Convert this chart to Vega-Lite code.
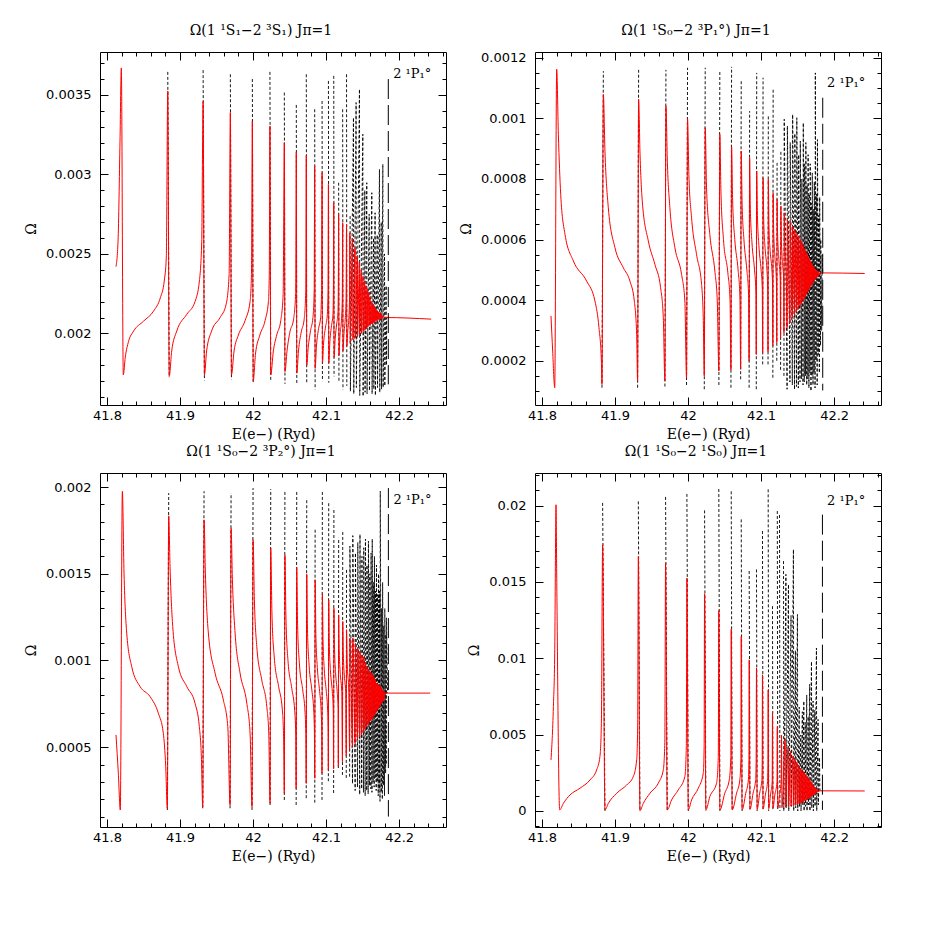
{
"$schema": "https://vega.github.io/schema/vega-lite/v6.json",
"background": "white",
"padding": {"left": 24, "top": 23, "right": 5, "bottom": 5},
"config": {
  "view": {"stroke": "black", "strokeWidth": 1},
  "axis": {"domain": false, "grid": false, "tickColor": "black", "tickWidth": 1, "labelFont": "DejaVu Sans", "labelFontSize": 13, "labelColor": "black", "titleFont": "DejaVu Serif", "titleFontSize": 14, "titleFontWeight": "normal", "titleColor": "black"},
  "title": {"font": "DejaVu Serif", "fontSize": 14, "fontWeight": "normal", "color": "black", "anchor": "middle", "offset": 14, "dx": -12}
},
"datasets": {
"tlr": [
{"x":41.8123,"y":0.00242},{"x":41.8151,"y":0.00258},{"x":41.8178,"y":0.00321},{"x":41.8196,"y":0.00367},{"x":41.8223,"y":0.00174},{"x":41.825,"y":0.00185},{"x":41.8295,"y":0.00195},{"x":41.8364,"y":0.002015},{"x":41.85,"y":0.002077},{"x":41.8637,"y":0.00214},{"x":41.873,"y":0.002224},{"x":41.8784,"y":0.00233},{"x":41.8812,"y":0.00248},{"x":41.8832,"y":0.003525},{"x":41.8852,"y":0.00173},
{"x":41.8886,"y":0.00189},{"x":41.8955,"y":0.002015},{"x":41.9092,"y":0.00212},{"x":41.9205,"y":0.0022},{"x":41.9265,"y":0.00233},{"x":41.9297,"y":0.00258},{"x":41.9316,"y":0.00346},{"x":41.9334,"y":0.00174},
{"x":41.9364,"y":0.00189},{"x":41.9432,"y":0.002015},{"x":41.9548,"y":0.0021},{"x":41.963,"y":0.00218},{"x":41.9672,"y":0.00237},{"x":41.9689,"y":0.00339},{"x":41.9704,"y":0.00174},
{"x":41.974,"y":0.00189},{"x":41.9799,"y":0.00199},{"x":41.989,"y":0.00208},{"x":41.9959,"y":0.0022},{"x":41.9978,"y":0.00237},{"x":41.999,"y":0.003336},{"x":42.0002,"y":0.0017},
{"x":42.0033,"y":0.00187},{"x":42.0093,"y":0.00199},{"x":42.0164,"y":0.00208},{"x":42.021,"y":0.0022},{"x":42.0222,"y":0.00237},{"x":42.0231,"y":0.003305},{"x":42.0242,"y":0.00174},
{"x":42.0278,"y":0.00189},{"x":42.0324,"y":0.00199},{"x":42.0379,"y":0.00208},{"x":42.0412,"y":0.002245},{"x":42.0428,"y":0.0032},{"x":42.0437,"y":0.00176},
{"x":42.0465,"y":0.00189},{"x":42.0505,"y":0.00201},{"x":42.0555,"y":0.00209},{"x":42.0583,"y":0.00225},{"x":42.0592,"y":0.00314},{"x":42.0599,"y":0.00175},
{"x":42.0622,"y":0.00189},{"x":42.066,"y":0.00201},{"x":42.07,"y":0.00209},{"x":42.0721,"y":0.00226},{"x":42.0729,"y":0.00312},{"x":42.0735,"y":0.0018},
{"x":42.0755,"y":0.00191},{"x":42.0788,"y":0.00202},{"x":42.082,"y":0.0021},{"x":42.0837,"y":0.00227},{"x":42.0844,"y":0.003053},{"x":42.085,"y":0.00178},
{"x":42.0868,"y":0.00192},{"x":42.0897,"y":0.00203},{"x":42.0925,"y":0.0021},{"x":42.0938,"y":0.00227},{"x":42.0945,"y":0.003011},{"x":42.095,"y":0.001815},
{"x":42.0966,"y":0.00194},{"x":42.0992,"y":0.00204},{"x":42.1016,"y":0.00211},{"x":42.1026,"y":0.00226},{"x":42.1032,"y":0.002938},{"x":42.1037,"y":0.001815},
{"x":42.1052,"y":0.00195},{"x":42.1075,"y":0.00205},{"x":42.1094,"y":0.00212},{"x":42.11,"y":0.00226},{"x":42.1105,"y":0.002822},{"x":42.1109,"y":0.00185},
{"x":42.1125,"y":0.00197},{"x":42.1145,"y":0.00206},{"x":42.1162,"y":0.00213},{"x":42.1167,"y":0.00226},{"x":42.1172,"y":0.002749},{"x":42.1176,"y":0.00186},
{"x":42.119,"y":0.00199},{"x":42.121,"y":0.00208},{"x":42.1222,"y":0.00222},{"x":42.1227,"y":0.002696},{"x":42.1231,"y":0.00189},
{"x":42.1245,"y":0.002},{"x":42.1262,"y":0.00209},{"x":42.1274,"y":0.00222},{"x":42.128,"y":0.002686},{"x":42.1284,"y":0.00192},
{"x":42.1296,"y":0.00201},{"x":42.1312,"y":0.0021},{"x":42.1321,"y":0.00222},{"x":42.1325,"y":0.002633},{"x":42.133,"y":0.00194},
{"x":42.1362,"y":0.0026},{"x":42.1366,"y":0.00196},{"x":42.1397,"y":0.00254},{"x":42.14,"y":0.00197},{"x":42.1428,"y":0.00249},{"x":42.1431,"y":0.00198},{"x":42.1456,"y":0.00245},{"x":42.1459,"y":0.00199},{"x":42.1482,"y":0.0024},{"x":42.1485,"y":0.002},{"x":42.1506,"y":0.00236},{"x":42.1509,"y":0.00201},{"x":42.1528,"y":0.00233},{"x":42.1531,"y":0.00202},{"x":42.1548,"y":0.0023},{"x":42.1551,"y":0.00203},{"x":42.1567,"y":0.00228},{"x":42.157,"y":0.00204},{"x":42.1585,"y":0.00226},{"x":42.1588,"y":0.00205},{"x":42.1602,"y":0.00223},{"x":42.1605,"y":0.00205},{"x":42.1618,"y":0.0022},{"x":42.1621,"y":0.00206},{"x":42.1633,"y":0.00219},{"x":42.1636,"y":0.00206},{"x":42.1648,"y":0.00218},{"x":42.1651,"y":0.00207},{"x":42.1662,"y":0.00217},{"x":42.1665,"y":0.00207},{"x":42.1676,"y":0.00216},{"x":42.1679,"y":0.00208},{"x":42.169,"y":0.00215},{"x":42.1693,"y":0.00208},{"x":42.1704,"y":0.00214},{"x":42.1707,"y":0.00208},{"x":42.1718,"y":0.002135},{"x":42.1721,"y":0.00209},{"x":42.1732,"y":0.00213},{"x":42.1735,"y":0.00209},{"x":42.1746,"y":0.00213},{"x":42.1749,"y":0.00209},{"x":42.176,"y":0.00212},{"x":42.1763,"y":0.00209},{"x":42.1775,"y":0.00211},{"x":42.1778,"y":0.0021},{"x":42.179,"y":0.00211},{"x":42.1793,"y":0.0021},{"x":42.1805,"y":0.0021},{"x":42.2438,"y":0.00209}
],
"tlk": [
{"g":11,"x":41.8832,"y":0.003645},{"g":11,"x":41.8852,"y":0.001725},
{"g":12,"x":41.9316,"y":0.003656},{"g":12,"x":41.9334,"y":0.001704},
{"g":13,"x":41.9689,"y":0.00363},{"g":13,"x":41.9704,"y":0.00171},
{"g":14,"x":41.999,"y":0.0036},{"g":14,"x":42.0002,"y":0.001689},
{"g":15,"x":42.0231,"y":0.003645},{"g":15,"x":42.0242,"y":0.0017},
{"g":16,"x":42.0428,"y":0.003515},{"g":16,"x":42.0437,"y":0.001683},
{"g":17,"x":42.0592,"y":0.003437},{"g":17,"x":42.0599,"y":0.00168},
{"g":18,"x":42.0729,"y":0.00363},{"g":18,"x":42.0735,"y":0.001689},
{"g":19,"x":42.0844,"y":0.00341},{"g":19,"x":42.085,"y":0.001647},
{"g":20,"x":42.0945,"y":0.003462},{"g":20,"x":42.095,"y":0.0017},
{"g":21,"x":42.1032,"y":0.003588},{"g":21,"x":42.1037,"y":0.00169},
{"g":22,"x":42.1105,"y":0.00362},{"g":22,"x":42.1109,"y":0.00173},
{"g":23,"x":42.1172,"y":0.002948},{"g":23,"x":42.1176,"y":0.0017},
{"g":24,"x":42.1227,"y":0.00341},{"g":24,"x":42.1231,"y":0.001647},
{"g":25,"x":42.128,"y":0.00363},{"g":25,"x":42.1284,"y":0.00167},
{"g":99,"x":42.1329,"y":0.002738},{"g":99,"x":42.1333,"y":0.001637},{"g":99,"x":42.1375,"y":0.003357},{"g":99,"x":42.1379,"y":0.00162},{"g":99,"x":42.1411,"y":0.003452},{"g":99,"x":42.1415,"y":0.00166},{"g":99,"x":42.1457,"y":0.003536},{"g":99,"x":42.1461,"y":0.00161},{"g":99,"x":42.1503,"y":0.003253},{"g":99,"x":42.1507,"y":0.001605},{"g":99,"x":42.153,"y":0.0029},{"g":99,"x":42.1534,"y":0.00163},{"g":99,"x":42.1557,"y":0.002948},{"g":99,"x":42.1561,"y":0.00162},{"g":99,"x":42.159,"y":0.00275},{"g":99,"x":42.1594,"y":0.00164},{"g":99,"x":42.1626,"y":0.002885},{"g":99,"x":42.163,"y":0.00162},{"g":99,"x":42.165,"y":0.0026},{"g":99,"x":42.1654,"y":0.00165},{"g":99,"x":42.1671,"y":0.002759},{"g":99,"x":42.1675,"y":0.00161},{"g":99,"x":42.17,"y":0.00262},{"g":99,"x":42.1704,"y":0.00166},{"g":99,"x":42.1731,"y":0.003032},{"g":99,"x":42.1735,"y":0.00163},{"g":99,"x":42.1755,"y":0.0027},{"g":99,"x":42.1759,"y":0.00165},{"g":99,"x":42.1777,"y":0.003064},{"g":99,"x":42.1781,"y":0.00166},{"g":99,"x":42.18,"y":0.0025},{"g":99,"x":42.1804,"y":0.00167},{"g":99,"x":42.1822,"y":0.0023},{"g":99,"x":42.1826,"y":0.0018},{"g":99,"x":42.183,"y":0.0021}
],
"tlt": [{"x":42.1852,"y":0.0036,"y2":0.00168,"lx":42.1918,"ly":0.00363,"label":"2 ¹P₁°"}],
"trr": [
{"x":41.8123,"y":0.000348},{"x":41.8146,"y":0.000232},{"x":41.8174,"y":0.000111},{"x":41.8201,"y":0.001162},{"x":41.8224,"y":0.000947},{"x":41.8256,"y":0.000749},{"x":41.8315,"y":0.000617},{"x":41.843,"y":0.000529},{"x":41.8611,"y":0.000463},{"x":41.8725,"y":0.000397},{"x":41.878,"y":0.000309},{"x":41.8813,"y":0.000199},{"x":41.8821,"y":0.000122},{"x":41.884,"y":0.001079},
{"x":41.8862,"y":0.000892},{"x":41.8908,"y":0.000705},{"x":41.8999,"y":0.000573},{"x":41.9114,"y":0.000507},{"x":41.9204,"y":0.000463},{"x":41.9264,"y":0.000397},{"x":41.9296,"y":0.000287},{"x":41.9309,"y":0.000133},{"x":41.9323,"y":0.001063},
{"x":41.9341,"y":0.000892},{"x":41.9373,"y":0.000727},{"x":41.9456,"y":0.000595},{"x":41.9546,"y":0.000518},{"x":41.9624,"y":0.000441},{"x":41.9661,"y":0.000342},{"x":41.9683,"y":0.000133},{"x":41.9697,"y":0.001041},
{"x":41.9716,"y":0.000859},{"x":41.9751,"y":0.000705},{"x":41.982,"y":0.000573},{"x":41.9911,"y":0.000485},{"x":41.9956,"y":0.000397},{"x":41.9979,"y":0.000144},{"x":41.9993,"y":0.000998},
{"x":42.0011,"y":0.000815},{"x":42.0048,"y":0.000672},{"x":42.0116,"y":0.000551},{"x":42.0185,"y":0.000452},{"x":42.0208,"y":0.000342},{"x":42.0222,"y":0.00015},{"x":42.0235,"y":0.000969},
{"x":42.0253,"y":0.000771},{"x":42.0298,"y":0.000617},{"x":42.0367,"y":0.000496},{"x":42.04,"y":0.000397},{"x":42.0422,"y":0.000166},{"x":42.0435,"y":0.000947},
{"x":42.045,"y":0.00076},{"x":42.0485,"y":0.0006},{"x":42.0545,"y":0.00049},{"x":42.0575,"y":0.0004},{"x":42.0587,"y":0.00017},{"x":42.0596,"y":0.000906},
{"x":42.061,"y":0.00073},{"x":42.064,"y":0.0006},{"x":42.0685,"y":0.0005},{"x":42.071,"y":0.00041},{"x":42.072,"y":0.000172},{"x":42.0728,"y":0.000892},
{"x":42.074,"y":0.00072},{"x":42.0765,"y":0.0006},{"x":42.0805,"y":0.0005},{"x":42.0828,"y":0.00042},{"x":42.0836,"y":0.000199},{"x":42.0843,"y":0.00087},
{"x":42.0853,"y":0.0007},{"x":42.0875,"y":0.00059},{"x":42.091,"y":0.0005},{"x":42.0928,"y":0.00043},{"x":42.0934,"y":0.000221},{"x":42.094,"y":0.000826},
{"x":42.095,"y":0.00068},{"x":42.097,"y":0.00058},{"x":42.1,"y":0.0005},{"x":42.1016,"y":0.00044},{"x":42.1022,"y":0.000227},{"x":42.1027,"y":0.000804},
{"x":42.1036,"y":0.00066},{"x":42.1055,"y":0.00057},{"x":42.108,"y":0.0005},{"x":42.109,"y":0.00044},{"x":42.1095,"y":0.00023},{"x":42.1099,"y":0.000799},
{"x":42.1107,"y":0.00065},{"x":42.1125,"y":0.00056},{"x":42.1148,"y":0.0005},{"x":42.1157,"y":0.00045},{"x":42.1161,"y":0.000249},{"x":42.1165,"y":0.000754},
{"x":42.1172,"y":0.00063},{"x":42.119,"y":0.00054},{"x":42.121,"y":0.00046},{"x":42.1215,"y":0.00026},{"x":42.1219,"y":0.000733},
{"x":42.1226,"y":0.00062},{"x":42.1245,"y":0.00053},{"x":42.1262,"y":0.00047},{"x":42.1267,"y":0.000276},{"x":42.1271,"y":0.000711},
{"x":42.1278,"y":0.0006},{"x":42.1295,"y":0.00052},{"x":42.1309,"y":0.00047},{"x":42.1313,"y":0.000292},{"x":42.1317,"y":0.000688},
{"x":42.1324,"y":0.00059},{"x":42.1345,"y":0.00048},{"x":42.1356,"y":0.000309},{"x":42.136,"y":0.000667},
{"x":42.1395,"y":0.000325},{"x":42.1399,"y":0.00066},{"x":42.1428,"y":0.00034},{"x":42.1432,"y":0.000645},{"x":42.1458,"y":0.000352},{"x":42.1462,"y":0.000633},{"x":42.1485,"y":0.000362},{"x":42.1489,"y":0.00062},{"x":42.151,"y":0.000372},{"x":42.1514,"y":0.000612},{"x":42.1533,"y":0.00038},{"x":42.1537,"y":0.0006},{"x":42.1554,"y":0.000388},{"x":42.1558,"y":0.000592},{"x":42.1574,"y":0.000396},{"x":42.1578,"y":0.00058},{"x":42.1592,"y":0.000404},{"x":42.1596,"y":0.00057},{"x":42.1609,"y":0.000412},{"x":42.1613,"y":0.000562},{"x":42.1625,"y":0.00042},{"x":42.1629,"y":0.000553},{"x":42.164,"y":0.000427},{"x":42.1644,"y":0.000545},{"x":42.1655,"y":0.000434},{"x":42.1659,"y":0.000538},{"x":42.1669,"y":0.00044},{"x":42.1673,"y":0.00053},{"x":42.1683,"y":0.000446},{"x":42.1687,"y":0.000524},{"x":42.1697,"y":0.000452},{"x":42.1701,"y":0.000518},{"x":42.1711,"y":0.000458},{"x":42.1715,"y":0.000512},{"x":42.1725,"y":0.000463},{"x":42.1729,"y":0.000507},{"x":42.1739,"y":0.000468},{"x":42.1743,"y":0.000503},{"x":42.1753,"y":0.000472},{"x":42.1757,"y":0.000499},{"x":42.1768,"y":0.000476},{"x":42.1772,"y":0.000496},{"x":42.1783,"y":0.00048},{"x":42.1787,"y":0.000494},{"x":42.1798,"y":0.000484},{"x":42.1805,"y":0.00049},{"x":42.2419,"y":0.000488}
],
"trk": [
{"g":11,"x":41.8821,"y":0.000111},{"g":11,"x":41.884,"y":0.001156},
{"g":12,"x":41.9309,"y":0.000111},{"g":12,"x":41.9323,"y":0.00116},
{"g":13,"x":41.9683,"y":0.000115},{"g":13,"x":41.9697,"y":0.00116},
{"g":14,"x":41.9979,"y":0.00012},{"g":14,"x":41.9993,"y":0.001167},
{"g":15,"x":42.0222,"y":0.000106},{"g":15,"x":42.0235,"y":0.001167},
{"g":16,"x":42.0422,"y":0.00012},{"g":16,"x":42.0435,"y":0.001156},
{"g":17,"x":42.0587,"y":0.000111},{"g":17,"x":42.0596,"y":0.00117},
{"g":18,"x":42.072,"y":0.000139},{"g":18,"x":42.0728,"y":0.001129},
{"g":19,"x":42.0836,"y":0.000111},{"g":19,"x":42.0843,"y":0.001024},
{"g":20,"x":42.0934,"y":0.000106},{"g":20,"x":42.094,"y":0.00115},
{"g":21,"x":42.1022,"y":0.000188},{"g":21,"x":42.1027,"y":0.001134},
{"g":22,"x":42.1095,"y":0.000188},{"g":22,"x":42.1099,"y":0.001008},
{"g":23,"x":42.1161,"y":0.000144},{"g":23,"x":42.1165,"y":0.001096},
{"g":24,"x":42.1215,"y":0.0002},{"g":24,"x":42.1219,"y":0.000853},
{"g":25,"x":42.1267,"y":0.00017},{"g":25,"x":42.1271,"y":0.000892},
{"g":99,"x":42.1313,"y":0.00015},{"g":99,"x":42.1317,"y":0.000997},{"g":99,"x":42.1356,"y":0.000106},{"g":99,"x":42.136,"y":0.000975},{"g":99,"x":42.1395,"y":0.00013},{"g":99,"x":42.1399,"y":0.00092},{"g":99,"x":42.1428,"y":0.00012},{"g":99,"x":42.1432,"y":0.001013},{"g":99,"x":42.1458,"y":0.000106},{"g":99,"x":42.1462,"y":0.00095},{"g":99,"x":42.1485,"y":0.000115},{"g":99,"x":42.1489,"y":0.001002},{"g":99,"x":42.151,"y":0.00011},{"g":99,"x":42.1514,"y":0.00088},{"g":99,"x":42.1533,"y":0.00013},{"g":99,"x":42.1537,"y":0.000925},{"g":99,"x":42.1554,"y":0.00014},{"g":99,"x":42.1558,"y":0.0008},{"g":99,"x":42.1574,"y":0.00012},{"g":99,"x":42.1578,"y":0.000985},{"g":99,"x":42.1592,"y":0.00013},{"g":99,"x":42.1596,"y":0.00085},{"g":99,"x":42.1609,"y":0.00015},{"g":99,"x":42.1613,"y":0.00092},{"g":99,"x":42.1625,"y":0.00012},{"g":99,"x":42.1629,"y":0.00078},{"g":99,"x":42.164,"y":0.00014},{"g":99,"x":42.1644,"y":0.00088},{"g":99,"x":42.1655,"y":0.00011},{"g":99,"x":42.1659,"y":0.00075},{"g":99,"x":42.1669,"y":0.00016},{"g":99,"x":42.1673,"y":0.00085},{"g":99,"x":42.1683,"y":0.0001},{"g":99,"x":42.1687,"y":0.00072},{"g":99,"x":42.1697,"y":0.00015},{"g":99,"x":42.1701,"y":0.00082},{"g":99,"x":42.1711,"y":0.00012},{"g":99,"x":42.1715,"y":0.0007},{"g":99,"x":42.1725,"y":0.00016},{"g":99,"x":42.1729,"y":0.00079},{"g":99,"x":42.1739,"y":0.00011},{"g":99,"x":42.1743,"y":0.00115},{"g":99,"x":42.1753,"y":0.0002},{"g":99,"x":42.1757,"y":0.00075},{"g":99,"x":42.1768,"y":0.00012},{"g":99,"x":42.1772,"y":0.00093},{"g":99,"x":42.1783,"y":0.00022},{"g":99,"x":42.1787,"y":0.00068},{"g":99,"x":42.1798,"y":0.00016},{"g":99,"x":42.1802,"y":0.00074},{"g":99,"x":42.1813,"y":0.00025},{"g":99,"x":42.1817,"y":0.0006},{"g":99,"x":42.183,"y":0.0003},{"g":99,"x":42.1836,"y":0.00055},{"g":99,"x":42.1844,"y":0.00049}
],
"trt": [{"x":42.1844,"y":0.001068,"y2":0.000102,"lx":42.1904,"ly":0.001117,"label":"2 ¹P₁°"}],
"blr": [
{"x":41.8123,"y":0.000571},{"x":41.8155,"y":0.00035},{"x":41.8182,"y":0.000138},{"x":41.821,"y":0.001975},{"x":41.8233,"y":0.001504},{"x":41.827,"y":0.001158},{"x":41.8338,"y":0.000965},{"x":41.8452,"y":0.00085},{"x":41.8589,"y":0.000792},{"x":41.8703,"y":0.000696},{"x":41.8771,"y":0.000581},{"x":41.8804,"y":0.000388},{"x":41.8826,"y":0.000148},{"x":41.8845,"y":0.001834},
{"x":41.8863,"y":0.001542},{"x":41.89,"y":0.001196},{"x":41.8977,"y":0.000965},{"x":41.9092,"y":0.00085},{"x":41.9205,"y":0.000754},{"x":41.9264,"y":0.000619},{"x":41.9292,"y":0.000446},{"x":41.9311,"y":0.000157},{"x":41.9329,"y":0.001811},
{"x":41.9347,"y":0.001504},{"x":41.9388,"y":0.001158},{"x":41.948,"y":0.000927},{"x":41.9593,"y":0.000773},{"x":41.9654,"y":0.000619},{"x":41.9685,"y":0.000167},{"x":41.9699,"y":0.001763},
{"x":41.9717,"y":0.001465},{"x":41.9754,"y":0.001158},{"x":41.9822,"y":0.000927},{"x":41.9914,"y":0.000754},{"x":41.9959,"y":0.000581},{"x":41.9986,"y":0.000157},{"x":42.0,"y":0.001696},
{"x":42.0018,"y":0.00135},{"x":42.0051,"y":0.00108},{"x":42.0119,"y":0.000888},{"x":42.0188,"y":0.000734},{"x":42.0215,"y":0.000581},{"x":42.0233,"y":0.000177},{"x":42.0242,"y":0.001648},
{"x":42.0258,"y":0.00128},{"x":42.029,"y":0.00102},{"x":42.035,"y":0.00085},{"x":42.04,"y":0.00072},{"x":42.0418,"y":0.00056},{"x":42.0428,"y":0.000235},{"x":42.0436,"y":0.001609},
{"x":42.045,"y":0.00125},{"x":42.0478,"y":0.001},{"x":42.053,"y":0.00084},{"x":42.057,"y":0.00071},{"x":42.0584,"y":0.00058},{"x":42.059,"y":0.000263},{"x":42.0598,"y":0.001538},
{"x":42.061,"y":0.0012},{"x":42.0635,"y":0.00098},{"x":42.068,"y":0.00083},{"x":42.0712,"y":0.0007},{"x":42.0722,"y":0.00058},{"x":42.0728,"y":0.000292},{"x":42.0735,"y":0.001498},
{"x":42.0745,"y":0.00118},{"x":42.0768,"y":0.00097},{"x":42.0805,"y":0.00083},{"x":42.0832,"y":0.0007},{"x":42.084,"y":0.00059},{"x":42.0845,"y":0.000321},{"x":42.085,"y":0.001465},
{"x":42.086,"y":0.00115},{"x":42.088,"y":0.00096},{"x":42.0912,"y":0.00082},{"x":42.0932,"y":0.00071},{"x":42.094,"y":0.0006},{"x":42.0944,"y":0.00035},{"x":42.0949,"y":0.001384},
{"x":42.0958,"y":0.00112},{"x":42.0975,"y":0.00095},{"x":42.1003,"y":0.00082},{"x":42.102,"y":0.00072},{"x":42.1027,"y":0.00061},{"x":42.1031,"y":0.000369},{"x":42.1036,"y":0.00135},
{"x":42.1044,"y":0.0011},{"x":42.106,"y":0.00094},{"x":42.1085,"y":0.00082},{"x":42.1098,"y":0.00072},{"x":42.1103,"y":0.000375},{"x":42.1107,"y":0.001302},
{"x":42.1115,"y":0.00108},{"x":42.113,"y":0.00093},{"x":42.1152,"y":0.00082},{"x":42.1164,"y":0.00073},{"x":42.1168,"y":0.00039},{"x":42.1172,"y":0.001263},
{"x":42.118,"y":0.00106},{"x":42.1195,"y":0.00092},{"x":42.1215,"y":0.00082},{"x":42.1224,"y":0.000417},{"x":42.1228,"y":0.001225},
{"x":42.1236,"y":0.00104},{"x":42.125,"y":0.00091},{"x":42.1268,"y":0.00082},{"x":42.1276,"y":0.00045},{"x":42.128,"y":0.001177},
{"x":42.129,"y":0.00098},{"x":42.131,"y":0.00083},{"x":42.1322,"y":0.000484},{"x":42.1326,"y":0.001129},
{"x":42.1362,"y":0.000505},{"x":42.1366,"y":0.00113},{"x":42.1398,"y":0.00052},{"x":42.1402,"y":0.0011},{"x":42.143,"y":0.000545},{"x":42.1434,"y":0.00107},{"x":42.146,"y":0.00056},{"x":42.1464,"y":0.00105},{"x":42.1487,"y":0.000572},{"x":42.1491,"y":0.00103},{"x":42.1512,"y":0.000585},{"x":42.1516,"y":0.00102},{"x":42.1535,"y":0.0006},{"x":42.1539,"y":0.00099},{"x":42.1556,"y":0.00062},{"x":42.156,"y":0.000965},{"x":42.1576,"y":0.00063},{"x":42.158,"y":0.00095},{"x":42.1595,"y":0.000645},{"x":42.1599,"y":0.00094},{"x":42.1612,"y":0.00065},{"x":42.1616,"y":0.00093},{"x":42.1628,"y":0.00066},{"x":42.1632,"y":0.00092},{"x":42.1643,"y":0.00067},{"x":42.1647,"y":0.00091},{"x":42.1658,"y":0.000685},{"x":42.1662,"y":0.0009},{"x":42.1672,"y":0.00069},{"x":42.1676,"y":0.00089},{"x":42.1686,"y":0.0007},{"x":42.169,"y":0.00087},{"x":42.17,"y":0.00071},{"x":42.1704,"y":0.000865},{"x":42.1714,"y":0.00072},{"x":42.1718,"y":0.00086},{"x":42.1728,"y":0.00073},{"x":42.1732,"y":0.000855},{"x":42.1742,"y":0.00074},{"x":42.1746,"y":0.00085},{"x":42.1756,"y":0.00075},{"x":42.176,"y":0.00084},{"x":42.177,"y":0.00076},{"x":42.1774,"y":0.00083},{"x":42.1785,"y":0.00077},{"x":42.1789,"y":0.000825},{"x":42.18,"y":0.00078},{"x":42.1805,"y":0.000812},{"x":42.2425,"y":0.000812}
],
"blk": [
{"g":11,"x":41.8826,"y":0.000138},{"g":11,"x":41.8845,"y":0.001965},
{"g":12,"x":41.9311,"y":0.000148},{"g":12,"x":41.9329,"y":0.001976},
{"g":13,"x":41.9685,"y":0.000148},{"g":13,"x":41.9699,"y":0.001965},
{"g":14,"x":41.9986,"y":0.000138},{"g":14,"x":42.0,"y":0.001994},
{"g":15,"x":42.0233,"y":0.000167},{"g":15,"x":42.0242,"y":0.001988},
{"g":16,"x":42.0428,"y":0.000196},{"g":16,"x":42.0436,"y":0.001976},
{"g":17,"x":42.059,"y":0.000167},{"g":17,"x":42.0598,"y":0.001982},
{"g":18,"x":42.0728,"y":0.000206},{"g":18,"x":42.0735,"y":0.001936},
{"g":19,"x":42.0845,"y":0.00018},{"g":19,"x":42.085,"y":0.00176},
{"g":20,"x":42.0944,"y":0.000196},{"g":20,"x":42.0949,"y":0.001976},
{"g":21,"x":42.1031,"y":0.000304},{"g":21,"x":42.1036,"y":0.001919},
{"g":22,"x":42.1103,"y":0.000236},{"g":22,"x":42.1107,"y":0.00188},
{"g":23,"x":42.1168,"y":0.00038},{"g":23,"x":42.1172,"y":0.001707},
{"g":24,"x":42.1224,"y":0.00034},{"g":24,"x":42.1228,"y":0.00175},
{"g":25,"x":42.1276,"y":0.000323},{"g":25,"x":42.128,"y":0.001534},
{"g":99,"x":42.1322,"y":0.00033},{"g":99,"x":42.1326,"y":0.00166},{"g":99,"x":42.1362,"y":0.00029},{"g":99,"x":42.1366,"y":0.00172},{"g":99,"x":42.1398,"y":0.00025},{"g":99,"x":42.1402,"y":0.00162},{"g":99,"x":42.143,"y":0.00027},{"g":99,"x":42.1434,"y":0.00168},{"g":99,"x":42.146,"y":0.000227},{"g":99,"x":42.1464,"y":0.001727},{"g":99,"x":42.1487,"y":0.00026},{"g":99,"x":42.1491,"y":0.0016},{"g":99,"x":42.1512,"y":0.00024},{"g":99,"x":42.1516,"y":0.00165},{"g":99,"x":42.1535,"y":0.00022},{"g":99,"x":42.1539,"y":0.0017},{"g":99,"x":42.1556,"y":0.00025},{"g":99,"x":42.156,"y":0.00155},{"g":99,"x":42.1576,"y":0.00023},{"g":99,"x":42.158,"y":0.001688},{"g":99,"x":42.1595,"y":0.00028},{"g":99,"x":42.1599,"y":0.0015},{"g":99,"x":42.1612,"y":0.00026},{"g":99,"x":42.1616,"y":0.00162},{"g":99,"x":42.1628,"y":0.00024},{"g":99,"x":42.1632,"y":0.0017},{"g":99,"x":42.1643,"y":0.0003},{"g":99,"x":42.1647,"y":0.00145},{"g":99,"x":42.1658,"y":0.00027},{"g":99,"x":42.1662,"y":0.0016},{"g":99,"x":42.1672,"y":0.00032},{"g":99,"x":42.1676,"y":0.0014},{"g":99,"x":42.1686,"y":0.00025},{"g":99,"x":42.169,"y":0.00155},{"g":99,"x":42.17,"y":0.0003},{"g":99,"x":42.1704,"y":0.00138},{"g":99,"x":42.1714,"y":0.00022},{"g":99,"x":42.1718,"y":0.0015},{"g":99,"x":42.1728,"y":0.00026},{"g":99,"x":42.1732,"y":0.0014},{"g":99,"x":42.1738,"y":0.000188},{"g":99,"x":42.1742,"y":0.001977},{"g":99,"x":42.1756,"y":0.00024},{"g":99,"x":42.176,"y":0.0013},{"g":99,"x":42.177,"y":0.0002},{"g":99,"x":42.1774,"y":0.00145},{"g":99,"x":42.1785,"y":0.00028},{"g":99,"x":42.1789,"y":0.0012},{"g":99,"x":42.18,"y":0.00022},{"g":99,"x":42.1804,"y":0.0013},{"g":99,"x":42.1815,"y":0.00035},{"g":99,"x":42.1819,"y":0.00115},{"g":99,"x":42.1822,"y":0.0004},{"g":99,"x":42.1826,"y":0.001246},{"g":99,"x":42.1842,"y":0.000812}
],
"blt": [{"x":42.1853,"y":0.001994,"y2":0.0001,"lx":42.1922,"ly":0.001923,"label":"2 ¹P₁°"}],
"brr": [
{"x":41.8123,"y":0.003344},{"x":41.8156,"y":0.00684},{"x":41.8174,"y":0.01034},{"x":41.8192,"y":0.02006},{"x":41.8201,"y":0.01559},{"x":41.8242,"y":0.00007},{"x":41.8293,"y":0.0005},{"x":41.8383,"y":0.00105},{"x":41.852,"y":0.00149},{"x":41.8657,"y":0.00203},{"x":41.8748,"y":0.00269},{"x":41.8793,"y":0.00356},{"x":41.8813,"y":0.00575},{"x":41.883,"y":0.01744},{"x":41.8862,"y":0.00007},
{"x":41.8908,"y":0.0005},{"x":41.9022,"y":0.00116},{"x":41.9159,"y":0.0017},{"x":41.925,"y":0.00225},{"x":41.9296,"y":0.00334},{"x":41.931,"y":0.0055},{"x":41.9319,"y":0.01667},{"x":41.9341,"y":0.00002},
{"x":41.9387,"y":0.0005},{"x":41.9478,"y":0.00116},{"x":41.9592,"y":0.00182},{"x":41.9661,"y":0.00269},{"x":41.9682,"y":0.0045},{"x":41.9692,"y":0.01624},{"x":41.9715,"y":0.00007},
{"x":41.9774,"y":0.00072},{"x":41.9866,"y":0.00138},{"x":41.9956,"y":0.00225},{"x":41.9976,"y":0.0042},{"x":41.9984,"y":0.01526},{"x":42.0003,"y":0.00007},
{"x":42.0048,"y":0.00072},{"x":42.014,"y":0.00149},{"x":42.0208,"y":0.00247},{"x":42.022,"y":0.0042},{"x":42.0226,"y":0.01423},{"x":42.0244,"y":0.00007},
{"x":42.0298,"y":0.00094},{"x":42.039,"y":0.00182},{"x":42.0414,"y":0.0035},{"x":42.0421,"y":0.01313},{"x":42.0436,"y":0.00007},
{"x":42.0503,"y":0.00116},{"x":42.0564,"y":0.00203},{"x":42.0585,"y":0.0035},{"x":42.0591,"y":0.01191},{"x":42.0604,"y":0.00007},
{"x":42.0664,"y":0.00116},{"x":42.0709,"y":0.00203},{"x":42.0723,"y":0.0034},{"x":42.0728,"y":0.01143},{"x":42.074,"y":0.00007},
{"x":42.079,"y":0.00116},{"x":42.0826,"y":0.00203},{"x":42.0833,"y":0.0033},{"x":42.0837,"y":0.0099},{"x":42.0848,"y":0.0001},
{"x":42.089,"y":0.00116},{"x":42.0925,"y":0.002},{"x":42.0932,"y":0.0032},{"x":42.0937,"y":0.00936},{"x":42.0946,"y":0.0001},
{"x":42.098,"y":0.00116},{"x":42.101,"y":0.002},{"x":42.1015,"y":0.0031},{"x":42.1019,"y":0.00892},{"x":42.1027,"y":0.00012},
{"x":42.106,"y":0.0011},{"x":42.1088,"y":0.0019},{"x":42.1093,"y":0.003},{"x":42.1097,"y":0.00793},{"x":42.1104,"y":0.00015},
{"x":42.113,"y":0.0011},{"x":42.1152,"y":0.0019},{"x":42.1156,"y":0.0064},{"x":42.1162,"y":0.00018},
{"x":42.119,"y":0.0011},{"x":42.1218,"y":0.0019},{"x":42.1222,"y":0.00553},{"x":42.1228,"y":0.0002},
{"x":42.1255,"y":0.0011},{"x":42.1275,"y":0.0019},{"x":42.128,"y":0.00498},{"x":42.1286,"y":0.00022},
{"x":42.133,"y":0.0047},{"x":42.1334,"y":0.00025},{"x":42.137,"y":0.0042},{"x":42.1374,"y":0.0003},{"x":42.1405,"y":0.0039},{"x":42.1409,"y":0.00032},{"x":42.1437,"y":0.0036},{"x":42.1441,"y":0.00035},{"x":42.1465,"y":0.0034},{"x":42.1469,"y":0.00038},{"x":42.1491,"y":0.0032},{"x":42.1495,"y":0.0004},{"x":42.1515,"y":0.003},{"x":42.1519,"y":0.00045},{"x":42.1537,"y":0.0028},{"x":42.1541,"y":0.0005},{"x":42.1558,"y":0.0027},{"x":42.1562,"y":0.00055},{"x":42.1577,"y":0.0026},{"x":42.1581,"y":0.0006},{"x":42.1595,"y":0.0025},{"x":42.1599,"y":0.00065},{"x":42.1612,"y":0.0024},{"x":42.1616,"y":0.0007},{"x":42.1628,"y":0.0023},{"x":42.1632,"y":0.00075},{"x":42.1643,"y":0.0022},{"x":42.1647,"y":0.0008},{"x":42.1658,"y":0.0021},{"x":42.1662,"y":0.00085},{"x":42.1672,"y":0.002},{"x":42.1676,"y":0.0009},{"x":42.1686,"y":0.0019},{"x":42.169,"y":0.00095},{"x":42.17,"y":0.0018},{"x":42.1704,"y":0.001},{"x":42.1714,"y":0.0017},{"x":42.1718,"y":0.00105},{"x":42.1728,"y":0.0016},{"x":42.1732,"y":0.0011},{"x":42.1742,"y":0.0015},{"x":42.1746,"y":0.00115},{"x":42.1756,"y":0.00145},{"x":42.176,"y":0.0012},{"x":42.177,"y":0.0014},{"x":42.1774,"y":0.00125},{"x":42.1784,"y":0.00135},{"x":42.1788,"y":0.00128},{"x":42.18,"y":0.00132},{"x":42.2419,"y":0.00131}
],
"brk": [
{"g":11,"x":41.883,"y":0.02018},{"g":11,"x":41.8862,"y":0.0},
{"g":12,"x":41.9319,"y":0.02028},{"g":12,"x":41.9341,"y":0.0},
{"g":13,"x":41.9692,"y":0.02057},{"g":13,"x":41.9715,"y":0.0},
{"g":14,"x":41.9984,"y":0.02077},{"g":14,"x":42.0003,"y":0.0},
{"g":15,"x":42.0226,"y":0.01969},{"g":15,"x":42.0244,"y":0.0},
{"g":16,"x":42.0421,"y":0.02109},{"g":16,"x":42.0436,"y":0.0},
{"g":17,"x":42.0591,"y":0.02094},{"g":17,"x":42.0604,"y":0.0},
{"g":18,"x":42.0728,"y":0.0191},{"g":18,"x":42.074,"y":0.0},
{"g":19,"x":42.0837,"y":0.01572},{"g":19,"x":42.0848,"y":0.0},
{"g":20,"x":42.0937,"y":0.01582},{"g":20,"x":42.0946,"y":0.0},
{"g":21,"x":42.1019,"y":0.01834},{"g":21,"x":42.1027,"y":0.0},
{"g":22,"x":42.1097,"y":0.02107},{"g":22,"x":42.1104,"y":0.0},
{"g":23,"x":42.1156,"y":0.01342},{"g":23,"x":42.1162,"y":0.0},
{"g":24,"x":42.1222,"y":0.01965},{"g":24,"x":42.1228,"y":0.0},
{"g":25,"x":42.1252,"y":0.01939},{"g":25,"x":42.1258,"y":0.0},
{"g":99,"x":42.1307,"y":0.01637},{"g":99,"x":42.1311,"y":0.0},{"g":99,"x":42.134,"y":0.0155},{"g":99,"x":42.1344,"y":0.0002},{"g":99,"x":42.1375,"y":0.01484},{"g":99,"x":42.1379,"y":0.0},{"g":99,"x":42.141,"y":0.0128},{"g":99,"x":42.1414,"y":0.0003},{"g":99,"x":42.1443,"y":0.01713},{"g":99,"x":42.1447,"y":0.0},{"g":99,"x":42.147,"y":0.0105},{"g":99,"x":42.1474,"y":0.0002},{"g":99,"x":42.1498,"y":0.01287},{"g":99,"x":42.1502,"y":0.0},{"g":99,"x":42.1522,"y":0.0068},{"g":99,"x":42.1526,"y":0.0003},{"g":99,"x":42.1543,"y":0.00498},{"g":99,"x":42.1547,"y":0.0},{"g":99,"x":42.1565,"y":0.0065},{"g":99,"x":42.1569,"y":0.0004},{"g":99,"x":42.1585,"y":0.0072},{"g":99,"x":42.1589,"y":0.0},{"g":99,"x":42.1605,"y":0.0058},{"g":99,"x":42.1609,"y":0.0003},{"g":99,"x":42.1625,"y":0.0076},{"g":99,"x":42.1629,"y":0.0},{"g":99,"x":42.1645,"y":0.0062},{"g":99,"x":42.1649,"y":0.0004},{"g":99,"x":42.1665,"y":0.0083},{"g":99,"x":42.1669,"y":0.0},{"g":99,"x":42.169,"y":0.00979},{"g":99,"x":42.1694,"y":0.0002},{"g":99,"x":42.1712,"y":0.0072},{"g":99,"x":42.1716,"y":0.0},{"g":99,"x":42.1735,"y":0.0066},{"g":99,"x":42.1739,"y":0.0003},{"g":99,"x":42.1758,"y":0.01067},{"g":99,"x":42.1762,"y":0.0},{"g":99,"x":42.178,"y":0.006},{"g":99,"x":42.1784,"y":0.0004},{"g":99,"x":42.18,"y":0.0035},{"g":99,"x":42.1805,"y":0.00131}
],
"brt": [{"x":42.184,"y":0.01941,"y2":0.00007,"lx":42.1904,"ly":0.02028,"label":"2 ¹P₁°"}]
},
"columns": 2,
"spacing": {"row": 2, "column": 12},
"concat": [
{
 "width": 346, "height": 353,
 "title": {"text": "Ω(1 ¹S₁−2 ³S₁) Jπ=1"},
 "resolve": {"axis": {"x": "independent", "y": "independent"}},
 "layer": [
  {"data": {"name": "tlk"}, "mark": {"type": "line", "color": "black", "strokeWidth": 0.9, "strokeDash": [3, 2], "clip": true},
   "encoding": {
    "x": {"field": "x", "type": "quantitative", "scale": {"domain": [41.7904, 42.2642], "nice": false, "zero": false}, "axis": {"orient": "bottom", "values": [41.8, 41.9, 42, 42.1, 42.2], "format": "~g", "tickSize": -8, "labelPadding": 12, "title": "E(e−) (Ryd)", "titlePadding": 5}},
    "y": {"field": "y", "type": "quantitative", "scale": {"domain": [0.00155, 0.00377], "nice": false, "zero": false}, "axis": {"orient": "left", "values": [0.002, 0.0025, 0.003, 0.0035], "format": "~g", "tickSize": -8, "labelPadding": 17, "title": "Ω", "titlePadding": 7}},
    "detail": {"field": "g", "type": "nominal"}}},
  {"data": {"name": "tlr"}, "mark": {"type": "line", "color": "#ff0000", "strokeWidth": 1, "interpolate": "monotone", "clip": true},
   "encoding": {
    "x": {"field": "x", "type": "quantitative", "scale": {"domain": [41.7904, 42.2642], "nice": false, "zero": false}, "axis": {"orient": "bottom", "values": [41.8,41.82,41.84,41.86,41.88,41.9,41.92,41.94,41.96,41.98,42,42.02,42.04,42.06,42.08,42.1,42.12,42.14,42.16,42.18,42.2,42.22,42.24,42.26], "labels": false, "tickSize": -4, "title": null}},
    "y": {"field": "y", "type": "quantitative", "scale": {"domain": [0.00155, 0.00377], "nice": false, "zero": false}, "axis": {"orient": "left", "values": [0.0016,0.0017,0.0018,0.0019,0.002,0.0021,0.0022,0.0023,0.0024,0.0025,0.0026,0.0027,0.0028,0.0029,0.003,0.0031,0.0032,0.0033,0.0034,0.0035,0.0036,0.0037], "labels": false, "tickSize": -4, "title": null}}}},
  {"data": {"name": "tlt"}, "mark": {"type": "rule", "color": "black", "strokeWidth": 1, "strokeDash": [20, 6]},
   "encoding": {
    "x": {"field": "x", "type": "quantitative", "scale": {"domain": [41.7904, 42.2642], "nice": false, "zero": false}, "axis": {"orient": "top", "values": [41.8, 41.9, 42, 42.1, 42.2], "labels": false, "tickSize": -8, "title": null}},
    "y": {"field": "y", "type": "quantitative", "scale": {"domain": [0.00155, 0.00377], "nice": false, "zero": false}, "axis": {"orient": "right", "values": [0.002, 0.0025, 0.003, 0.0035], "labels": false, "tickSize": -8, "title": null}},
    "y2": {"field": "y2"}}},
  {"data": {"name": "tlt"}, "mark": {"type": "text", "align": "left", "baseline": "middle", "font": "DejaVu Serif", "fontSize": 13, "color": "black"},
   "encoding": {
    "x": {"field": "lx", "type": "quantitative", "scale": {"domain": [41.7904, 42.2642], "nice": false, "zero": false}, "axis": {"orient": "top", "values": [41.8,41.82,41.84,41.86,41.88,41.9,41.92,41.94,41.96,41.98,42,42.02,42.04,42.06,42.08,42.1,42.12,42.14,42.16,42.18,42.2,42.22,42.24,42.26], "labels": false, "tickSize": -4, "title": null}},
    "y": {"field": "ly", "type": "quantitative", "scale": {"domain": [0.00155, 0.00377], "nice": false, "zero": false}, "axis": {"orient": "right", "values": [0.0016,0.0017,0.0018,0.0019,0.002,0.0021,0.0022,0.0023,0.0024,0.0025,0.0026,0.0027,0.0028,0.0029,0.003,0.0031,0.0032,0.0033,0.0034,0.0035,0.0036,0.0037], "labels": false, "tickSize": -4, "title": null}},
    "text": {"field": "label", "type": "nominal"}}}
 ]
},
{
 "width": 346, "height": 353,
 "title": {"text": "Ω(1 ¹S₀−2 ³P₁°) Jπ=1"},
 "resolve": {"axis": {"x": "independent", "y": "independent"}},
 "layer": [
  {"data": {"name": "trk"}, "mark": {"type": "line", "color": "black", "strokeWidth": 0.9, "strokeDash": [3, 2], "clip": true},
   "encoding": {
    "x": {"field": "x", "type": "quantitative", "scale": {"domain": [41.7904, 42.2642], "nice": false, "zero": false}, "axis": {"orient": "bottom", "values": [41.8, 41.9, 42, 42.1, 42.2], "format": "~g", "tickSize": -8, "labelPadding": 12, "title": "E(e−) (Ryd)", "titlePadding": 5}},
    "y": {"field": "y", "type": "quantitative", "scale": {"domain": [0.000054, 0.001219], "nice": false, "zero": false}, "axis": {"orient": "left", "values": [0.0002, 0.0004, 0.0006, 0.0008, 0.001, 0.0012], "format": "~g", "tickSize": -8, "labelPadding": 17, "title": "Ω", "titlePadding": 7}},
    "detail": {"field": "g", "type": "nominal"}}},
  {"data": {"name": "trr"}, "mark": {"type": "line", "color": "#ff0000", "strokeWidth": 1, "interpolate": "monotone", "clip": true},
   "encoding": {
    "x": {"field": "x", "type": "quantitative", "scale": {"domain": [41.7904, 42.2642], "nice": false, "zero": false}, "axis": {"orient": "bottom", "values": [41.8,41.82,41.84,41.86,41.88,41.9,41.92,41.94,41.96,41.98,42,42.02,42.04,42.06,42.08,42.1,42.12,42.14,42.16,42.18,42.2,42.22,42.24,42.26], "labels": false, "tickSize": -4, "title": null}},
    "y": {"field": "y", "type": "quantitative", "scale": {"domain": [0.000054, 0.001219], "nice": false, "zero": false}, "axis": {"orient": "left", "values": [0.0001,0.00015,0.0002,0.00025,0.0003,0.00035,0.0004,0.00045,0.0005,0.00055,0.0006,0.00065,0.0007,0.00075,0.0008,0.00085,0.0009,0.00095,0.001,0.00105,0.0011,0.00115,0.0012], "labels": false, "tickSize": -4, "title": null}}}},
  {"data": {"name": "trt"}, "mark": {"type": "rule", "color": "black", "strokeWidth": 1, "strokeDash": [20, 6]},
   "encoding": {
    "x": {"field": "x", "type": "quantitative", "scale": {"domain": [41.7904, 42.2642], "nice": false, "zero": false}, "axis": {"orient": "top", "values": [41.8, 41.9, 42, 42.1, 42.2], "labels": false, "tickSize": -8, "title": null}},
    "y": {"field": "y", "type": "quantitative", "scale": {"domain": [0.000054, 0.001219], "nice": false, "zero": false}, "axis": {"orient": "right", "values": [0.0002, 0.0004, 0.0006, 0.0008, 0.001, 0.0012], "labels": false, "tickSize": -8, "title": null}},
    "y2": {"field": "y2"}}},
  {"data": {"name": "trt"}, "mark": {"type": "text", "align": "left", "baseline": "middle", "font": "DejaVu Serif", "fontSize": 13, "color": "black"},
   "encoding": {
    "x": {"field": "lx", "type": "quantitative", "scale": {"domain": [41.7904, 42.2642], "nice": false, "zero": false}, "axis": {"orient": "top", "values": [41.8,41.82,41.84,41.86,41.88,41.9,41.92,41.94,41.96,41.98,42,42.02,42.04,42.06,42.08,42.1,42.12,42.14,42.16,42.18,42.2,42.22,42.24,42.26], "labels": false, "tickSize": -4, "title": null}},
    "y": {"field": "ly", "type": "quantitative", "scale": {"domain": [0.000054, 0.001219], "nice": false, "zero": false}, "axis": {"orient": "right", "values": [0.0001,0.00015,0.0002,0.00025,0.0003,0.00035,0.0004,0.00045,0.0005,0.00055,0.0006,0.00065,0.0007,0.00075,0.0008,0.00085,0.0009,0.00095,0.001,0.00105,0.0011,0.00115,0.0012], "labels": false, "tickSize": -4, "title": null}},
    "text": {"field": "label", "type": "nominal"}}}
 ]
},
{
 "width": 346, "height": 354,
 "title": {"text": "Ω(1 ¹S₀−2 ³P₂°) Jπ=1"},
 "resolve": {"axis": {"x": "independent", "y": "independent"}},
 "layer": [
  {"data": {"name": "blk"}, "mark": {"type": "line", "color": "black", "strokeWidth": 0.9, "strokeDash": [3, 2], "clip": true},
   "encoding": {
    "x": {"field": "x", "type": "quantitative", "scale": {"domain": [41.7904, 42.2642], "nice": false, "zero": false}, "axis": {"orient": "bottom", "values": [41.8, 41.9, 42, 42.1, 42.2], "format": "~g", "tickSize": -8, "labelPadding": 12, "title": "E(e−) (Ryd)", "titlePadding": 5}},
    "y": {"field": "y", "type": "quantitative", "scale": {"domain": [0.00004, 0.002081], "nice": false, "zero": false}, "axis": {"orient": "left", "values": [0.0005, 0.001, 0.0015, 0.002], "format": "~g", "tickSize": -8, "labelPadding": 17, "title": "Ω", "titlePadding": 7}},
    "detail": {"field": "g", "type": "nominal"}}},
  {"data": {"name": "blr"}, "mark": {"type": "line", "color": "#ff0000", "strokeWidth": 1, "interpolate": "monotone", "clip": true},
   "encoding": {
    "x": {"field": "x", "type": "quantitative", "scale": {"domain": [41.7904, 42.2642], "nice": false, "zero": false}, "axis": {"orient": "bottom", "values": [41.8,41.82,41.84,41.86,41.88,41.9,41.92,41.94,41.96,41.98,42,42.02,42.04,42.06,42.08,42.1,42.12,42.14,42.16,42.18,42.2,42.22,42.24,42.26], "labels": false, "tickSize": -4, "title": null}},
    "y": {"field": "y", "type": "quantitative", "scale": {"domain": [0.00004, 0.002081], "nice": false, "zero": false}, "axis": {"orient": "left", "values": [0.0001,0.0002,0.0003,0.0004,0.0005,0.0006,0.0007,0.0008,0.0009,0.001,0.0011,0.0012,0.0013,0.0014,0.0015,0.0016,0.0017,0.0018,0.0019,0.002], "labels": false, "tickSize": -4, "title": null}}}},
  {"data": {"name": "blt"}, "mark": {"type": "rule", "color": "black", "strokeWidth": 1, "strokeDash": [20, 6]},
   "encoding": {
    "x": {"field": "x", "type": "quantitative", "scale": {"domain": [41.7904, 42.2642], "nice": false, "zero": false}, "axis": {"orient": "top", "values": [41.8, 41.9, 42, 42.1, 42.2], "labels": false, "tickSize": -8, "title": null}},
    "y": {"field": "y", "type": "quantitative", "scale": {"domain": [0.00004, 0.002081], "nice": false, "zero": false}, "axis": {"orient": "right", "values": [0.0005, 0.001, 0.0015, 0.002], "labels": false, "tickSize": -8, "title": null}},
    "y2": {"field": "y2"}}},
  {"data": {"name": "blt"}, "mark": {"type": "text", "align": "left", "baseline": "middle", "font": "DejaVu Serif", "fontSize": 13, "color": "black"},
   "encoding": {
    "x": {"field": "lx", "type": "quantitative", "scale": {"domain": [41.7904, 42.2642], "nice": false, "zero": false}, "axis": {"orient": "top", "values": [41.8,41.82,41.84,41.86,41.88,41.9,41.92,41.94,41.96,41.98,42,42.02,42.04,42.06,42.08,42.1,42.12,42.14,42.16,42.18,42.2,42.22,42.24,42.26], "labels": false, "tickSize": -4, "title": null}},
    "y": {"field": "ly", "type": "quantitative", "scale": {"domain": [0.00004, 0.002081], "nice": false, "zero": false}, "axis": {"orient": "right", "values": [0.0001,0.0002,0.0003,0.0004,0.0005,0.0006,0.0007,0.0008,0.0009,0.001,0.0011,0.0012,0.0013,0.0014,0.0015,0.0016,0.0017,0.0018,0.0019,0.002], "labels": false, "tickSize": -4, "title": null}},
    "text": {"field": "label", "type": "nominal"}}}
 ]
},
{
 "width": 346, "height": 354,
 "title": {"text": "Ω(1 ¹S₀−2 ¹S₀) Jπ=1"},
 "resolve": {"axis": {"x": "independent", "y": "independent"}},
 "layer": [
  {"data": {"name": "brk"}, "mark": {"type": "line", "color": "black", "strokeWidth": 0.9, "strokeDash": [3, 2], "clip": true},
   "encoding": {
    "x": {"field": "x", "type": "quantitative", "scale": {"domain": [41.7904, 42.2642], "nice": false, "zero": false}, "axis": {"orient": "bottom", "values": [41.8, 41.9, 42, 42.1, 42.2], "format": "~g", "tickSize": -8, "labelPadding": 12, "title": "E(e−) (Ryd)", "titlePadding": 5}},
    "y": {"field": "y", "type": "quantitative", "scale": {"domain": [-0.00105, 0.02214], "nice": false, "zero": false}, "axis": {"orient": "left", "values": [0, 0.005, 0.01, 0.015, 0.02], "format": "~g", "tickSize": -8, "labelPadding": 17, "title": "Ω", "titlePadding": 7}},
    "detail": {"field": "g", "type": "nominal"}}},
  {"data": {"name": "brr"}, "mark": {"type": "line", "color": "#ff0000", "strokeWidth": 1, "interpolate": "monotone", "clip": true},
   "encoding": {
    "x": {"field": "x", "type": "quantitative", "scale": {"domain": [41.7904, 42.2642], "nice": false, "zero": false}, "axis": {"orient": "bottom", "values": [41.8,41.82,41.84,41.86,41.88,41.9,41.92,41.94,41.96,41.98,42,42.02,42.04,42.06,42.08,42.1,42.12,42.14,42.16,42.18,42.2,42.22,42.24,42.26], "labels": false, "tickSize": -4, "title": null}},
    "y": {"field": "y", "type": "quantitative", "scale": {"domain": [-0.00105, 0.02214], "nice": false, "zero": false}, "axis": {"orient": "left", "values": [-0.001,0,0.001,0.002,0.003,0.004,0.005,0.006,0.007,0.008,0.009,0.01,0.011,0.012,0.013,0.014,0.015,0.016,0.017,0.018,0.019,0.02,0.021,0.022], "labels": false, "tickSize": -4, "title": null}}}},
  {"data": {"name": "brt"}, "mark": {"type": "rule", "color": "black", "strokeWidth": 1, "strokeDash": [20, 6]},
   "encoding": {
    "x": {"field": "x", "type": "quantitative", "scale": {"domain": [41.7904, 42.2642], "nice": false, "zero": false}, "axis": {"orient": "top", "values": [41.8, 41.9, 42, 42.1, 42.2], "labels": false, "tickSize": -8, "title": null}},
    "y": {"field": "y", "type": "quantitative", "scale": {"domain": [-0.00105, 0.02214], "nice": false, "zero": false}, "axis": {"orient": "right", "values": [0, 0.005, 0.01, 0.015, 0.02], "labels": false, "tickSize": -8, "title": null}},
    "y2": {"field": "y2"}}},
  {"data": {"name": "brt"}, "mark": {"type": "text", "align": "left", "baseline": "middle", "font": "DejaVu Serif", "fontSize": 13, "color": "black"},
   "encoding": {
    "x": {"field": "lx", "type": "quantitative", "scale": {"domain": [41.7904, 42.2642], "nice": false, "zero": false}, "axis": {"orient": "top", "values": [41.8,41.82,41.84,41.86,41.88,41.9,41.92,41.94,41.96,41.98,42,42.02,42.04,42.06,42.08,42.1,42.12,42.14,42.16,42.18,42.2,42.22,42.24,42.26], "labels": false, "tickSize": -4, "title": null}},
    "y": {"field": "ly", "type": "quantitative", "scale": {"domain": [-0.00105, 0.02214], "nice": false, "zero": false}, "axis": {"orient": "right", "values": [-0.001,0,0.001,0.002,0.003,0.004,0.005,0.006,0.007,0.008,0.009,0.01,0.011,0.012,0.013,0.014,0.015,0.016,0.017,0.018,0.019,0.02,0.021,0.022], "labels": false, "tickSize": -4, "title": null}},
    "text": {"field": "label", "type": "nominal"}}}
 ]
}
]
}
